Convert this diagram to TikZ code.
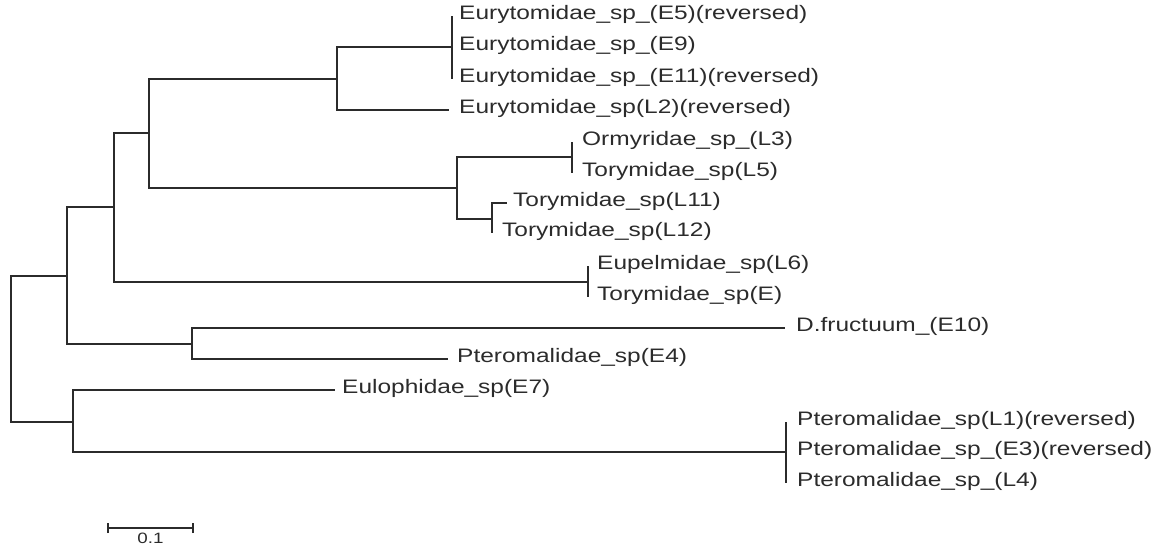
\documentclass[tikz,border=0pt]{standalone}
\usepackage{fontspec}
\setmainfont{Liberation Sans}
\newfontfamily\taxfont[FakeStretch=1.255]{Liberation Sans}
\usetikzlibrary{positioning}
\definecolor{treegray}{HTML}{2B2B2B}

\begin{document}
\begin{tikzpicture}[x=1pt, y=-1pt,
    branch/.style={treegray, line width=1.6pt},
    taxon/.style={inner sep=0pt, text height=0.716em, text depth=0pt, text=treegray,
        font=\taxfont\fontsize{19.5}{22}\selectfont}]
    \useasboundingbox (0,0) rectangle (1160,554);

    % inner nodes of the tree
    \coordinate (root) at (11,349);
    \coordinate (nA) at (67,276);
    \coordinate (nB) at (73,422);
    \coordinate (nC) at (114,207);
    \coordinate (nD) at (192,344);
    \coordinate (nE) at (149,133);
    \coordinate (nF) at (588,282);
    \coordinate (nG) at (337,79);
    \coordinate (nH) at (457,188);
    \coordinate (nI) at (452,47);
    \coordinate (nJ) at (572,157);
    \coordinate (nK) at (492,219);
    \coordinate (nM) at (786,452);

    % branch tips
    \coordinate (tE5) at (452,16);
    \coordinate (tE9) at (452,47);
    \coordinate (tE11) at (452,79);
    \coordinate (tL2) at (449,110);
    \coordinate (tL3) at (572,142);
    \coordinate (tL5) at (572,173);
    \coordinate (tL11) at (507,203);
    \coordinate (tL12) at (492,233);
    \coordinate (tL6) at (588,266);
    \coordinate (tE) at (588,297);
    \coordinate (tE10) at (785,328);
    \coordinate (tE4) at (448,359);
    \coordinate (tE7) at (335,390);
    \coordinate (tL1) at (786,422);
    \coordinate (tE3) at (786,452);
    \coordinate (tL4) at (786,483);

    \draw[branch] (root) |- (nA);
    \draw[branch] (root) |- (nB);
    \draw[branch] (nA) |- (nC);
    \draw[branch] (nA) |- (nD);
    \draw[branch] (nC) |- (nE);
    \draw[branch] (nC) |- (nF);
    \draw[branch] (nE) |- (nG);
    \draw[branch] (nE) |- (nH);
    \draw[branch] (nG) |- (nI);
    \draw[branch] (nG) |- (tL2);
    \draw[branch] (nI) |- (tE5);
    \draw[branch] (nI) |- (tE11);
    \draw[branch] (nH) |- (nJ);
    \draw[branch] (nH) |- (nK);
    \draw[branch] (nJ) |- (tL3);
    \draw[branch] (nJ) |- (tL5);
    \draw[branch] (nK) |- (tL11);
    \draw[branch] (nK) |- (tL12);
    \draw[branch] (nF) |- (tL6);
    \draw[branch] (nF) |- (tE);
    \draw[branch] (nD) |- (tE10);
    \draw[branch] (nD) |- (tE4);
    \draw[branch] (nB) |- (tE7);
    \draw[branch] (nB) |- (nM);
    \draw[branch] (nM) |- (tL1);
    \draw[branch] (nM) |- (tL4);

    % taxon labels
    \node[taxon, right=7pt of tE5] (E5) {Eurytomidae\_sp\_(E5)(reversed)};
    \node[taxon, right=7pt of tE9] (E9) {Eurytomidae\_sp\_(E9)};
    \node[taxon, right=7pt of tE11] (E11) {Eurytomidae\_sp\_(E11)(reversed)};
    \node[taxon, right=10pt of tL2] (L2) {Eurytomidae\_sp(L2)(reversed)};
    \node[taxon, right=10pt of tL3] (L3) {Ormyridae\_sp\_(L3)};
    \node[taxon, right=10pt of tL5] (L5) {Torymidae\_sp(L5)};
    \node[taxon, right=6pt of tL11] (L11) {Torymidae\_sp(L11)};
    \node[taxon, right=10pt of tL12] (L12) {Torymidae\_sp(L12)};
    \node[taxon, right=9pt of tL6] (L6) {Eupelmidae\_sp(L6)};
    \node[taxon, right=9pt of tE] (E) {Torymidae\_sp(E)};
    \node[taxon, right=11pt of tE10] (E10) {D.fructuum\_(E10)};
    \node[taxon, right=9pt of tE4] (E4) {Pteromalidae\_sp(E4)};
    \node[taxon, right=7pt of tE7] (E7) {Eulophidae\_sp(E7)};
    \node[taxon, right=11pt of tL1] (L1) {Pteromalidae\_sp(L1)(reversed)};
    \node[taxon, right=11pt of tE3] (E3) {Pteromalidae\_sp\_(E3)(reversed)};
    \node[taxon, right=11pt of tL4] (L4) {Pteromalidae\_sp\_(L4)};

    % scale bar
    \coordinate (sbL) at (108,528);
    \coordinate (sbR) at (193,528);
    \coordinate (sbM) at (150.5,528);
    \draw[branch] (sbL) -- (sbR);
    \draw[branch] ([yshift=-5pt]sbL) -- ([yshift=5pt]sbL);
    \draw[branch] ([yshift=-5pt]sbR) -- ([yshift=5pt]sbR);
    \node[taxon, font=\taxfont\fontsize{15}{17}\selectfont, below=8pt of sbM] (sbLabel) {0.1};
\end{tikzpicture}
\end{document}
